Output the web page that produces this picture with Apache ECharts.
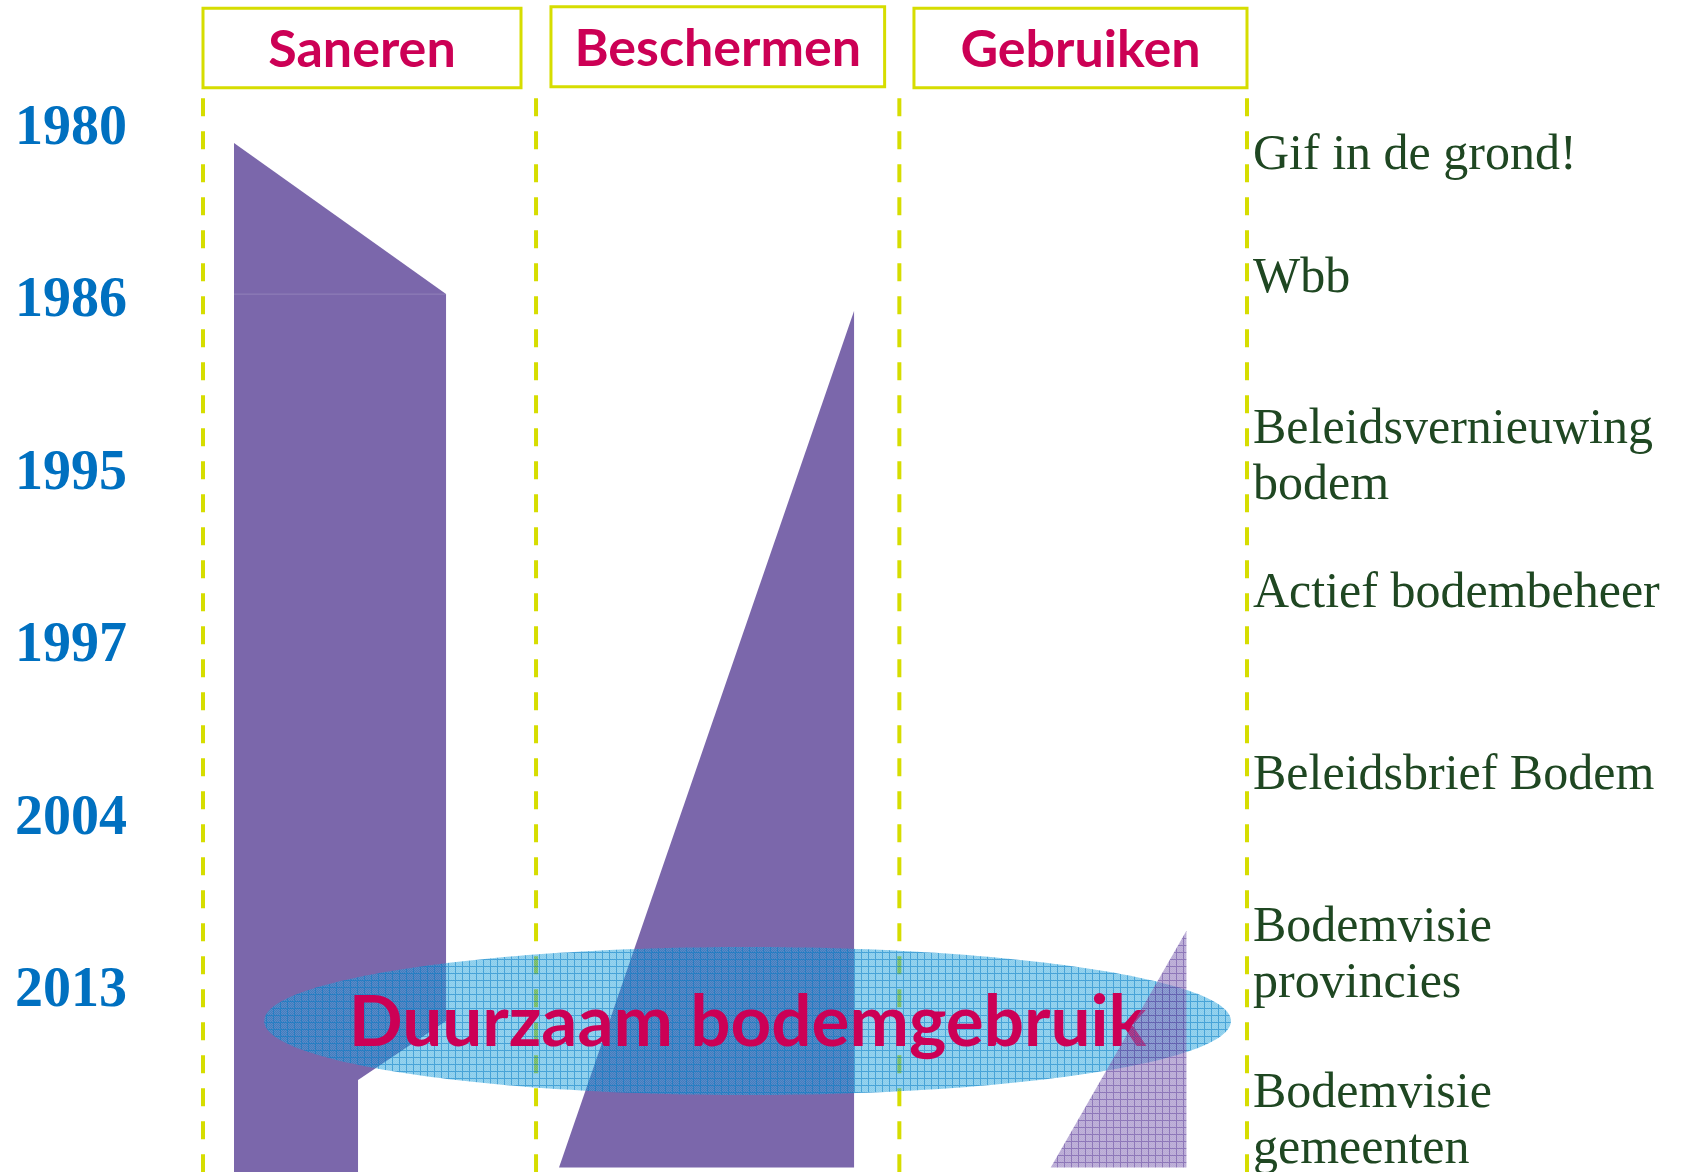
<!DOCTYPE html>
<html><head><meta charset="utf-8">
<script src="https://cdn.jsdelivr.net/npm/echarts@6/dist/echarts.min.js"></script>
<style>html,body{margin:0;padding:0;background:#fff}#c{width:1685px;height:1172px}</style>
</head><body><div id="c"></div>
<script>
// ---- data ----
const years = ['1980', '1986', '1995', '1997', '2004', '2013'];          // time axis labels (index 0..5)
const columns = ['Saneren', 'Beschermen', 'Gebruiken'];                  // column headers
const columnBounds = [0, 31.9, 66.7, 100];                               // dashed column separators (x units)
const events = ['Gif in de grond!', 'Wbb', 'Beleidsvernieuwing\nbodem', 'Actief bodembeheer',
                'Beleidsbrief Bodem', 'Bodemvisie\nprovincies', 'Bodemvisie\ngemeenten'];
const eventAt = [0.136, 0.85, 1.724, 2.68, 3.733, 4.615, 5.576];         // year-index position of events
// areas: [x, yearIndex]
const sanerenTop = [[2.97, 0.081], [23.28, 0.957], [2.97, 0.957]];
const sanerenBody = [[2.97, 0.957], [23.28, 0.957], [23.28, 5.171], [14.85, 5.513], [14.85, 6.05], [2.97, 6.05]];
const beschermenArea = [[62.36, 1.055], [62.36, 6.02], [34.1, 6.02]];
const gebruikenArea = [[94.2, 4.647], [94.2, 6.02], [81.2, 6.02]];
const duurzaamLabel = 'Duurzaam bodemgebruik';
const duurzaamCenter = [52.16, 5.171];
const duurzaamRadius = [46.3, 0.429];

// ---- layout ----
const yMin = -0.748, yMax = 6.046;
const headerSpan = [[0, 30.46], [33.33, 65.29], [68.1, 100]];
const headerTop = [-0.70, -0.709, -0.70], headerBottom = [-0.24, -0.245, -0.24];
const dashTop = -0.179;

const PURPLE = '#7B67AB', LIME = '#D6DD00', MAGENTA = '#CC0055';

function makePattern(base, line, size, checker) {
  const c = document.createElement('canvas'); c.width = c.height = size;
  const g = c.getContext('2d');
  g.fillStyle = base; g.fillRect(0, 0, size, size);
  if (checker) {
    g.fillStyle = checker;
    for (let i = 0; i < size; i++) for (let j = 0; j < size; j++) if ((i + j) % 2 === 0) g.fillRect(i, j, 1, 1);
  }
  g.fillStyle = line; g.fillRect(0, 0, size, 1); g.fillRect(0, 1, 1, size - 1);
  return c;
}
const ellipsePattern = makePattern('rgba(5,148,215,0.47)', 'rgba(0,120,195,0.5)', 7, 'rgba(255,255,255,0.12)');
const triPattern = makePattern('rgba(120,92,175,0.52)', 'rgba(95,65,155,0.5)', 7, 'rgba(255,255,255,0.10)');

function polygonSeries(pts, style, z) {
  return {
    type: 'custom', coordinateSystem: 'cartesian2d', z: z, silent: true,
    data: pts, encode: { x: 0, y: 1 },
    renderItem: function (params, api) {
      if (params.dataIndex !== 0) return;
      return { type: 'polygon', shape: { points: pts.map(p => api.coord(p)) }, style: style };
    }
  };
}

const chart = echarts.init(document.getElementById('c'), null, { renderer: 'canvas' });
chart.setOption({
  animation: false,
  backgroundColor: '#ffffff',
  grid: { left: 203, right: 438, top: 0, bottom: 0 },
  xAxis: { type: 'value', min: 0, max: 100, show: false },
  yAxis: {
    type: 'value', inverse: true, min: yMin, max: yMax,
    axisLine: { show: false }, axisTick: { show: false }, splitLine: { show: false },
    axisLabel: {
      customValues: [0, 1, 2, 3, 4, 5],
      formatter: v => years[Math.round(v)] || '',
      color: '#0070C0', fontFamily: 'Liberation Serif', fontWeight: 'bold', fontSize: 56, margin: 76,
      padding: [4, 0, 0, 0]
    }
  },
  series: [
    // dashed column separators
    {
      type: 'custom', coordinateSystem: 'cartesian2d', z: 1, silent: true,
      data: columnBounds.map(x => [x, dashTop]),
      renderItem: function (params, api) {
        const x = api.value(0);
        const a = api.coord([x, dashTop]), b = api.coord([x, yMax]);
        return { type: 'line', shape: { x1: a[0], y1: a[1], x2: b[0], y2: b[1] },
          style: { stroke: LIME, lineWidth: 4, lineDash: [18, 15], lineCap: 'butt' } };
      }
    },
    // column headers
    {
      type: 'custom', coordinateSystem: 'cartesian2d', z: 2, silent: true,
      data: columns.map((c, i) => [headerSpan[i][0], headerTop[i]]),
      renderItem: function (params, api) {
        const i = params.dataIndex;
        const a = api.coord([headerSpan[i][0], headerTop[i]]), b = api.coord([headerSpan[i][1], headerBottom[i]]);
        return { type: 'group', children: [
          { type: 'rect', shape: { x: a[0], y: a[1], width: b[0] - a[0], height: b[1] - a[1] },
            style: { fill: '#fff', stroke: LIME, lineWidth: 3 } },
          { type: 'text', x: (a[0] + b[0]) / 2, y: (a[1] + b[1]) / 2 + 2,
            style: { text: columns[i], fill: MAGENTA, font: 'bold 52px Lato', align: 'center', verticalAlign: 'middle' } }
        ] };
      }
    },
    // event labels
    {
      type: 'custom', coordinateSystem: 'cartesian2d', z: 2, silent: true,
      data: eventAt.map(y => [100, y]),
      renderItem: function (params, api) {
        const p = api.coord([100, api.value(1)]);
        return { type: 'text', x: p[0] + 6, y: p[1] - 25,
          style: { text: events[params.dataIndex], fill: '#1F4722', font: '50px "Liberation Serif"',
            lineHeight: 56, align: 'left', verticalAlign: 'top' } };
      }
    },
    polygonSeries(sanerenTop, { fill: PURPLE }, 2),
    polygonSeries(sanerenBody, { fill: PURPLE }, 2),
    {
      type: 'custom', coordinateSystem: 'cartesian2d', z: 2, silent: true,
      data: [sanerenTop[0]],
      renderItem: function (params, api) {
        const a = api.coord(sanerenTop[2]), b = api.coord(sanerenTop[1]);
        return { type: 'line', shape: { x1: a[0], y1: a[1], x2: b[0], y2: b[1] },
          style: { stroke: 'rgba(255,255,255,0.18)', lineWidth: 1 } };
      }
    },
    polygonSeries(beschermenArea, { fill: PURPLE }, 2),
    // Duurzaam ellipse + label
    {
      type: 'custom', coordinateSystem: 'cartesian2d', z: 3, silent: true,
      data: [duurzaamCenter],
      renderItem: function (params, api) {
        const c = api.coord(duurzaamCenter);
        const rx = api.size([duurzaamRadius[0], 0])[0], ry = api.size([0, duurzaamRadius[1]])[1];
        return { type: 'group', children: [
          { type: 'ellipse', shape: { cx: c[0], cy: c[1], rx: rx, ry: ry },
            style: { fill: { image: ellipsePattern, repeat: 'repeat' } } },
          { type: 'text', x: c[0], y: c[1] + 2,
            style: { text: duurzaamLabel, fill: MAGENTA, font: 'bold 71px Lato', align: 'center', verticalAlign: 'middle' } }
        ] };
      }
    },
    polygonSeries(gebruikenArea, { fill: { image: triPattern, repeat: 'repeat' } }, 5)
  ]
});
</script>
</body></html>
